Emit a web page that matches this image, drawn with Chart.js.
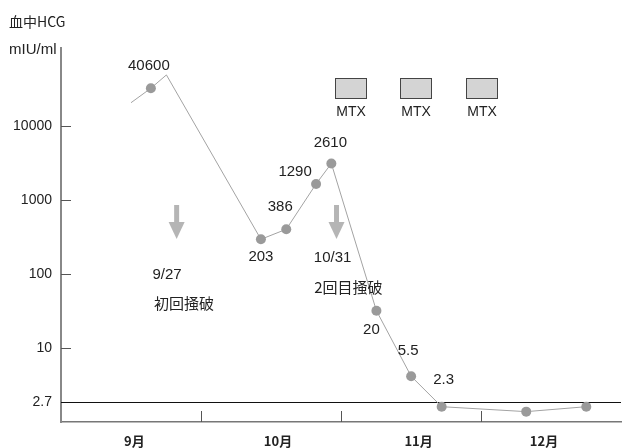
<!DOCTYPE html>
<html>
<head>
<meta charset="utf-8">
<script src="https://cdn.jsdelivr.net/npm/chart.js@4"></script>
<style>
  body { margin: 0; background: #fff; }
  canvas { display: block; }
</style>
</head>
<body>
<canvas id="hcgChart" width="626" height="448"></canvas>
<script>
// x position is in months from Sep 1 (0 = 9/1, 1 = 10/1 ...)
const monthLabels = ['9月', '10月', '11月', '12月'];
const monthLabelPos = [0.524, 1.55, 2.554, 3.45];
const monthStarts = [1, 2, 3];

const hcgX = [0.50, 0.642, 0.753, 1.428, 1.609, 1.822, 1.931, 2.253, 2.501, 2.719, 3.323, 3.752];
const hcgY = [20600, 32300, 48900, 294, 402, 1645, 3110, 31.9, 4.15, 1.61, 1.38, 1.61];
const hcgLabels = ['', '40600', '', '203', '386', '1290', '2610', '20', '5.5', '2.3', '', ''];

const yTickValues = [1.86, 10, 100, 1000, 10000];
const yTickLabels = ['2.7', '10', '100', '1000', '10000'];
const cutoffValue = 1.86;

const procX = [0.826, 1.968];
const procDates = ['9/27', '10/31'];
const procNames = ['初回掻破', '2回目掻破'];
const mtxX = [2.071, 2.538, 3.005];

const FONT = '"Liberation Sans", Arial, "Noto Sans CJK JP", sans-serif';
const CJK = '"Noto Sans CJK JP", "Liberation Sans", sans-serif';

// label offsets (px) from each point
const labelOffsets = [null, [-2, -22], null, [0, 18], [-6, -22], [-21, -12], [-1, -21], [-5, 19], [-3, -25], [2, -27], null, null];
// annotation text anchors in data units
const procTextPos = [
  { date: [0.757, 97], name: [0.878, 40.5] },
  { date: [1.94, 164], name: [2.053, 66.7] }
];

const extras = {
  id: 'extras',
  beforeDatasetsDraw(chart) {
    const { ctx, chartArea, scales: { x, y } } = chart;
    ctx.save();
    // 2.7 reference line
    const yc = Math.round(y.getPixelForValue(cutoffValue)) + 0.5;
    ctx.strokeStyle = '#111';
    ctx.lineWidth = 1;
    ctx.beginPath();
    ctx.moveTo(chartArea.left, yc);
    ctx.lineTo(chartArea.right, yc);
    ctx.stroke();
    // inward ticks
    ctx.strokeStyle = '#555';
    yTickValues.slice(1).forEach(v => {
      const py = Math.round(y.getPixelForValue(v)) + 0.5;
      ctx.beginPath();
      ctx.moveTo(chartArea.left, py);
      ctx.lineTo(chartArea.left + 10, py);
      ctx.stroke();
    });
    monthStarts.forEach(m => {
      const px = Math.round(x.getPixelForValue(m)) + 0.5;
      ctx.beginPath();
      ctx.moveTo(px, chartArea.bottom);
      ctx.lineTo(px, chartArea.bottom - 11);
      ctx.stroke();
    });
    ctx.restore();
  },
  afterDatasetsDraw(chart) {
    const { ctx, scales: { x, y } } = chart;
    ctx.save();
    ctx.fillStyle = '#222';
    ctx.textAlign = 'center';
    ctx.textBaseline = 'middle';

    // titles
    ctx.textAlign = 'left';
    ctx.font = '14px ' + CJK;
    ctx.fillText('血中HCG', 9, 22);
    ctx.font = '15px ' + FONT;
    ctx.fillText('mIU/ml', 9, 50);
    ctx.textAlign = 'center';

    // point labels
    ctx.font = '15px ' + FONT;
    hcgLabels.forEach((t, i) => {
      if (!t) return;
      const px = x.getPixelForValue(hcgX[i]);
      const py = y.getPixelForValue(hcgY[i]);
      ctx.fillText(t, px + labelOffsets[i][0], py + labelOffsets[i][1]);
    });

    // procedure arrows
    procX.forEach((v, i) => {
      const px = x.getPixelForValue(v);
      const top = y.getPixelForValue(855);
      const bot = y.getPixelForValue(297);
      ctx.fillStyle = '#b5b5b5';
      ctx.fillRect(px - 2.5, top, 5, bot - top - 16);
      ctx.beginPath();
      ctx.moveTo(px - 8, bot - 17);
      ctx.lineTo(px + 8, bot - 17);
      ctx.lineTo(px, bot);
      ctx.closePath();
      ctx.fill();

      ctx.fillStyle = '#222';
      const p = procTextPos[i];
      ctx.font = '15px ' + FONT;
      ctx.fillText(procDates[i], x.getPixelForValue(p.date[0]), y.getPixelForValue(p.date[1]));
      ctx.font = '15px ' + CJK;
      ctx.fillText(procNames[i], x.getPixelForValue(p.name[0]), y.getPixelForValue(p.name[1]));
    });

    // MTX boxes
    mtxX.forEach(v => {
      const px = Math.round(x.getPixelForValue(v));
      const top = Math.round(y.getPixelForValue(44600)) + 0.5;
      ctx.fillStyle = '#d4d4d4';
      ctx.strokeStyle = '#444';
      ctx.lineWidth = 1;
      ctx.fillRect(px - 15.5, top, 31, 20);
      ctx.strokeRect(px - 15.5, top, 31, 20);
      ctx.fillStyle = '#222';
      ctx.font = '14px ' + FONT;
      ctx.fillText('MTX', px, y.getPixelForValue(15460));
    });
    ctx.restore();
  }
};

new Chart(document.getElementById('hcgChart'), {
  type: 'line',
  data: {
    datasets: [{
      data: hcgX.map((v, i) => ({ x: v, y: hcgY[i] })),
      borderColor: '#a3a3a3',
      borderWidth: 1,
      pointBackgroundColor: '#9a9a9a',
      pointBorderWidth: 0,
      pointRadius: hcgLabels.map((t, i) => (i === 0 || i === 2) ? 0 : 5),
      tension: 0
    }]
  },
  options: {
    responsive: false,
    animation: false,
    layout: { padding: { top: 48, left: 0, right: 0, bottom: 0 } },
    plugins: { legend: { display: false }, tooltip: { enabled: false } },
    scales: {
      x: {
        type: 'linear',
        min: 0,
        max: 4,
        afterFit: s => { s.height = 26; },
        afterBuildTicks: s => { s.ticks = monthLabelPos.map(v => ({ value: v })); },
        grid: { display: false, drawTicks: false },
        border: { display: true, color: '#777', width: 1.5 },
        ticks: {
          autoSkip: false,
          maxRotation: 0,
          padding: 11,
          color: '#222',
          font: { family: CJK, size: 13, weight: 'bold' },
          callback: (v, i) => monthLabels[i]
        }
      },
      y: {
        type: 'logarithmic',
        min: 1,
        max: 113000,
        afterFit: s => { s.width = 61; },
        afterBuildTicks: s => { s.ticks = yTickValues.map(v => ({ value: v })); },
        grid: { display: false, drawTicks: false },
        border: { display: true, color: '#888', width: 2 },
        ticks: {
          padding: 9,
          color: '#222',
          font: { family: FONT, size: 14 },
          callback: (v, i) => yTickLabels[i]
        }
      }
    }
  },
  plugins: [extras]
});
</script>
</body>
</html>
